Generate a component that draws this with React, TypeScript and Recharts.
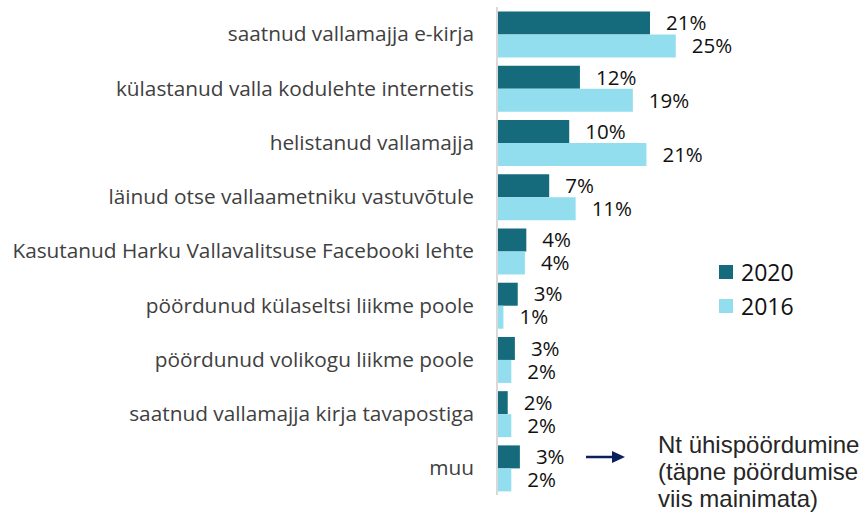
import { BarChart, Bar, XAxis, YAxis, LabelList } from "recharts"

const categories = [
  "saatnud vallamajja e-kirja",
  "külastanud valla kodulehte internetis",
  "helistanud vallamajja",
  "läinud otse vallaametniku vastuvõtule",
  "Kasutanud Harku Vallavalitsuse Facebooki lehte",
  "pöördunud külaseltsi liikme poole",
  "pöördunud volikogu liikme poole",
  "saatnud vallamajja kirja tavapostiga",
  "muu",
]

const values2020 = [21.4, 11.6, 10.1, 7.3, 4.1, 2.9, 2.5, 1.5, 3.2]
const values2016 = [25.0, 19.0, 20.9, 11.0, 3.9, 0.9, 2.0, 2.0, 2.0]
const labels2020 = ["21%", "12%", "10%", "7%", "4%", "3%", "3%", "2%", "3%"]
const labels2016 = ["25%", "19%", "21%", "11%", "4%", "1%", "2%", "2%", "2%"]

const COLOR_2020 = "#156b7c"
const COLOR_2016 = "#92deee"
const FONT = "'Open Sans', sans-serif"

const data = categories.map((name, i) => ({
  name,
  v2020: values2020[i],
  v2016: values2016[i],
  l2020: labels2020[i],
  l2016: labels2016[i],
}))

function LegendBox() {
  const items = [
    { label: "2020", color: COLOR_2020 },
    { label: "2016", color: COLOR_2016 },
  ]
  return (
    <div style={{ position: "absolute", left: 719, top: 255, fontFamily: FONT }}>
      {items.map((it) => (
        <div key={it.label} style={{ display: "flex", alignItems: "center", height: 34 }}>
          <span style={{ width: 14, height: 14, background: it.color, display: "inline-block", marginRight: 8 }} />
          <span style={{ fontSize: 23, color: "#111" }}>{it.label}</span>
        </div>
      ))}
    </div>
  )
}

export default function App() {
  return (
    <div style={{ position: "absolute", left: 0, top: 0, width: 863, height: 515, background: "#fff" }}>
      <BarChart
        width={863}
        height={515}
        data={data}
        layout="vertical"
        margin={{ top: 7, right: 80, bottom: 20, left: 0 }}
        barCategoryGap="8.5%"
        barGap={0}
      >
        <XAxis type="number" domain={[0, 40]} hide />
        <YAxis
          type="category"
          dataKey="name"
          width={497}
          tickLine={false}
          tickSize={0}
          tickMargin={23}
          axisLine={{ stroke: "#d9d9d9", strokeWidth: 2 }}
          tick={{ fill: "#404040", fontSize: 20.8, fontFamily: FONT }}
        />
        <Bar dataKey="v2020" fill={COLOR_2020} isAnimationActive={false}>
          <LabelList dataKey="l2020" position="right" offset={16} fill="#111" fontSize={20.5} fontFamily={FONT} />
        </Bar>
        <Bar dataKey="v2016" fill={COLOR_2016} isAnimationActive={false}>
          <LabelList dataKey="l2016" position="right" offset={16} fill="#111" fontSize={20.5} fontFamily={FONT} />
        </Bar>
      </BarChart>
      <LegendBox />
      <svg style={{ position: "absolute", left: 0, top: 0 }} width={863} height={515} pointerEvents="none">
        <line x1={586} y1={457} x2={613} y2={457} stroke="#0b1f5e" strokeWidth={2.5} />
        <polygon points="612,451 625,457 612,463" fill="#0b1f5e" />
      </svg>
      <div
        style={{
          position: "absolute",
          left: 658,
          top: 431,
          fontFamily: "'Liberation Sans', Arial, sans-serif",
          fontSize: 24,
          lineHeight: "27px",
          color: "#262626",
          whiteSpace: "nowrap",
        }}
      >
        Nt ühispöördumine
        <br />
        (täpne pöördumise
        <br />
        viis mainimata)
      </div>
    </div>
  )
}
